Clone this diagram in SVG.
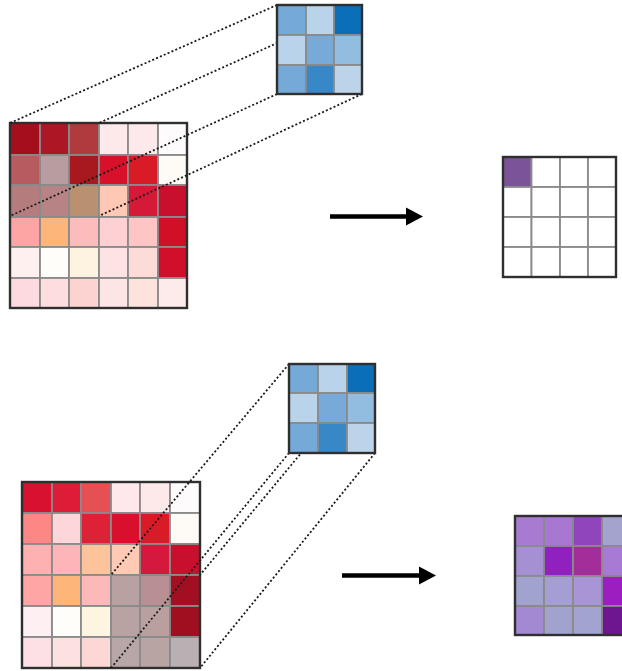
<svg xmlns="http://www.w3.org/2000/svg" width="622" height="671" viewBox="0 0 622 671">
<defs>
<style>
.cl{stroke:#8a8a8a;stroke-width:1.8}
.fr{fill:none;stroke:#2f2f2f;stroke-width:2.4}
.dl{stroke:#1a1a1a;stroke-width:1.8;stroke-dasharray:2 2.2;fill:none}
.ar{stroke:#000;stroke-width:4.5}
</style>
<marker id="ah" markerUnits="userSpaceOnUse" viewBox="0 0 17 18" markerWidth="17" markerHeight="18" refX="2" refY="9" orient="auto" overflow="visible">
<path d="M0,0 L17,9 L0,18 Z" fill="#000"/>
</marker>
</defs>
<rect width="622" height="671" fill="#fff"/>

<g id="input-top">
<g class="cl">
<rect x="10" y="123" width="30" height="32" fill="#a50f1d"/><rect x="40" y="123" width="29" height="32" fill="#ad1624"/><rect x="69" y="123" width="30" height="32" fill="#b03a3e"/><rect x="99" y="123" width="29" height="32" fill="#fde8ea"/><rect x="128" y="123" width="30" height="32" fill="#fde8ea"/><rect x="158" y="123" width="29" height="32" fill="#fdfbfb"/>
<rect x="10" y="155" width="30" height="30" fill="#b85b5e"/><rect x="40" y="155" width="29" height="30" fill="#b99c9f"/><rect x="69" y="155" width="30" height="30" fill="#a8191f"/><rect x="99" y="155" width="29" height="30" fill="#d8112a"/><rect x="128" y="155" width="30" height="30" fill="#d91a27"/><rect x="158" y="155" width="29" height="30" fill="#fefbf7"/>
<rect x="10" y="185" width="30" height="32" fill="#b47c7c"/><rect x="40" y="185" width="29" height="32" fill="#b88384"/><rect x="69" y="185" width="30" height="32" fill="#b99070"/><rect x="99" y="185" width="29" height="32" fill="#fec8b4"/><rect x="128" y="185" width="30" height="32" fill="#d51a38"/><rect x="158" y="185" width="29" height="32" fill="#c8102e"/>
<rect x="10" y="217" width="30" height="30" fill="#fda5a5"/><rect x="40" y="217" width="29" height="30" fill="#fdb57a"/><rect x="69" y="217" width="30" height="30" fill="#fdbcbc"/><rect x="99" y="217" width="29" height="30" fill="#fdd1d3"/><rect x="128" y="217" width="30" height="30" fill="#fdc6c4"/><rect x="158" y="217" width="29" height="30" fill="#d01026"/>
<rect x="10" y="247" width="30" height="31" fill="#fef0ef"/><rect x="40" y="247" width="29" height="31" fill="#fefdf9"/><rect x="69" y="247" width="30" height="31" fill="#fef3e0"/><rect x="99" y="247" width="29" height="31" fill="#fde3e3"/><rect x="128" y="247" width="30" height="31" fill="#fddcd8"/><rect x="158" y="247" width="29" height="31" fill="#d0102a"/>
<rect x="10" y="278" width="30" height="30" fill="#fdd9e0"/><rect x="40" y="278" width="29" height="30" fill="#fddddd"/><rect x="69" y="278" width="30" height="30" fill="#fdd3d1"/><rect x="99" y="278" width="29" height="30" fill="#fde5e5"/><rect x="128" y="278" width="30" height="30" fill="#fde3dc"/><rect x="158" y="278" width="29" height="30" fill="#fdeaea"/>
</g>
<rect class="fr" x="10" y="123" width="177" height="185"/>
</g>

<g id="input-bottom">
<g class="cl">
<rect x="22" y="482" width="30" height="31" fill="#d7112f"/><rect x="52" y="482" width="29" height="31" fill="#dd1d38"/><rect x="81" y="482" width="30" height="31" fill="#e55055"/><rect x="111" y="482" width="29" height="31" fill="#fee8ec"/><rect x="140" y="482" width="30" height="31" fill="#fde8ea"/><rect x="170" y="482" width="30" height="31" fill="#fdfbfb"/>
<rect x="22" y="513" width="30" height="31" fill="#fd8785"/><rect x="52" y="513" width="29" height="31" fill="#fdd6d9"/><rect x="81" y="513" width="30" height="31" fill="#dd2236"/><rect x="111" y="513" width="29" height="31" fill="#d9102d"/><rect x="140" y="513" width="30" height="31" fill="#d91a27"/><rect x="170" y="513" width="30" height="31" fill="#fefbf7"/>
<rect x="22" y="544" width="30" height="31" fill="#fdb1b1"/><rect x="52" y="544" width="29" height="31" fill="#fdb5b9"/><rect x="81" y="544" width="30" height="31" fill="#fdc49c"/><rect x="111" y="544" width="29" height="31" fill="#fecab4"/><rect x="140" y="544" width="30" height="31" fill="#d5193c"/><rect x="170" y="544" width="30" height="31" fill="#c8102e"/>
<rect x="22" y="575" width="30" height="31" fill="#fda6a5"/><rect x="52" y="575" width="29" height="31" fill="#fdb57a"/><rect x="81" y="575" width="30" height="31" fill="#fdb8b8"/><rect x="111" y="575" width="29" height="31" fill="#b9a1a1"/><rect x="140" y="575" width="30" height="31" fill="#b88f92"/><rect x="170" y="575" width="30" height="31" fill="#a20f22"/>
<rect x="22" y="606" width="30" height="31" fill="#fef0f2"/><rect x="52" y="606" width="29" height="31" fill="#fefdfa"/><rect x="81" y="606" width="30" height="31" fill="#fef5e1"/><rect x="111" y="606" width="29" height="31" fill="#b9a3a2"/><rect x="140" y="606" width="30" height="31" fill="#b9a09f"/><rect x="170" y="606" width="30" height="31" fill="#a00f20"/>
<rect x="22" y="637" width="30" height="31" fill="#fde0e6"/><rect x="52" y="637" width="29" height="31" fill="#fde0e0"/><rect x="81" y="637" width="30" height="31" fill="#fdd7d3"/><rect x="111" y="637" width="29" height="31" fill="#b8a6a8"/><rect x="140" y="637" width="30" height="31" fill="#b8a5a3"/><rect x="170" y="637" width="30" height="31" fill="#b8b0b2"/>
</g>
<rect class="fr" x="22" y="482" width="178" height="186"/>
</g>

<g id="connectors">
<line class="dl" x1="277" y1="5" x2="10" y2="123"/>
<line class="dl" x1="362" y1="5" x2="99" y2="123"/>
<line class="dl" x1="277" y1="94" x2="10" y2="216"/>
<line class="dl" x1="362" y1="94" x2="99" y2="216"/>
<line class="dl" x1="289" y1="364" x2="111" y2="575"/>
<line class="dl" x1="375" y1="364" x2="200" y2="575"/>
<line class="dl" x1="289" y1="453" x2="111" y2="668"/>
<line class="dl" x1="375" y1="453" x2="200" y2="668"/>
<line class="ar" x1="330" y1="216.5" x2="408" y2="216.5" marker-end="url(#ah)"/>
<line class="ar" x1="342" y1="575.5" x2="421" y2="575.5" marker-end="url(#ah)"/>
</g>

<g id="kernel-top">
<g class="cl">
<rect x="277" y="5" width="29" height="30" fill="#74a9d8"/><rect x="306" y="5" width="28" height="30" fill="#b9d3ea"/><rect x="334" y="5" width="28" height="30" fill="#0a6eb8"/>
<rect x="277" y="35" width="29" height="30" fill="#b9d3ea"/><rect x="306" y="35" width="28" height="30" fill="#77aad9"/><rect x="334" y="35" width="28" height="30" fill="#93bde0"/>
<rect x="277" y="65" width="29" height="29" fill="#74a9d8"/><rect x="306" y="65" width="28" height="29" fill="#3888c8"/><rect x="334" y="65" width="28" height="29" fill="#bcd4ea"/>
</g>
<rect class="fr" x="277" y="5" width="85" height="89"/>
</g>

<g id="kernel-bottom">
<g class="cl">
<rect x="289" y="364" width="29" height="29" fill="#74a9d8"/><rect x="318" y="364" width="29" height="29" fill="#b9d3ea"/><rect x="347" y="364" width="28" height="29" fill="#0a6eb8"/>
<rect x="289" y="393" width="29" height="30" fill="#b9d3ea"/><rect x="318" y="393" width="29" height="30" fill="#77aad9"/><rect x="347" y="393" width="28" height="30" fill="#93bde0"/>
<rect x="289" y="423" width="29" height="30" fill="#74a9d8"/><rect x="318" y="423" width="29" height="30" fill="#3888c8"/><rect x="347" y="423" width="28" height="30" fill="#bcd4ea"/>
</g>
<rect class="fr" x="289" y="364" width="86" height="89"/>
</g>

<g id="output-top">
<g class="cl">
<rect x="503" y="157" width="28.5" height="30" fill="#7a5399"/><rect x="531.5" y="157" width="28.5" height="30" fill="#fff"/><rect x="560" y="157" width="28" height="30" fill="#fff"/><rect x="588" y="157" width="28" height="30" fill="#fff"/>
<rect x="503" y="187" width="28.5" height="30" fill="#fff"/><rect x="531.5" y="187" width="28.5" height="30" fill="#fff"/><rect x="560" y="187" width="28" height="30" fill="#fff"/><rect x="588" y="187" width="28" height="30" fill="#fff"/>
<rect x="503" y="217" width="28.5" height="30" fill="#fff"/><rect x="531.5" y="217" width="28.5" height="30" fill="#fff"/><rect x="560" y="217" width="28" height="30" fill="#fff"/><rect x="588" y="217" width="28" height="30" fill="#fff"/>
<rect x="503" y="247" width="28.5" height="30" fill="#fff"/><rect x="531.5" y="247" width="28.5" height="30" fill="#fff"/><rect x="560" y="247" width="28" height="30" fill="#fff"/><rect x="588" y="247" width="28" height="30" fill="#fff"/>
</g>
<rect class="fr" x="503" y="157" width="113" height="120"/>
</g>

<g id="output-bottom">
<g class="cl">
<rect x="515" y="516" width="29" height="30" fill="#a87bd1"/><rect x="544" y="516" width="29" height="30" fill="#a777d1"/><rect x="573" y="516" width="29" height="30" fill="#9045bc"/><rect x="602" y="516" width="29" height="30" fill="#a3a3cd"/>
<rect x="515" y="546" width="29" height="30" fill="#a490d2"/><rect x="544" y="546" width="29" height="30" fill="#9020c0"/><rect x="573" y="546" width="29" height="30" fill="#a22e9a"/><rect x="602" y="546" width="29" height="30" fill="#a97ad4"/>
<rect x="515" y="576" width="29" height="30" fill="#a2a2cf"/><rect x="544" y="576" width="29" height="30" fill="#a59ed3"/><rect x="573" y="576" width="29" height="30" fill="#a795d6"/><rect x="602" y="576" width="29" height="30" fill="#9a1ec0"/>
<rect x="515" y="606" width="29" height="29" fill="#a389d2"/><rect x="544" y="606" width="29" height="29" fill="#a2a2cf"/><rect x="573" y="606" width="29" height="29" fill="#a3a3cf"/><rect x="602" y="606" width="29" height="29" fill="#6e1690"/>
</g>
<rect class="fr" x="515" y="516" width="116" height="119"/>
</g>
</svg>
